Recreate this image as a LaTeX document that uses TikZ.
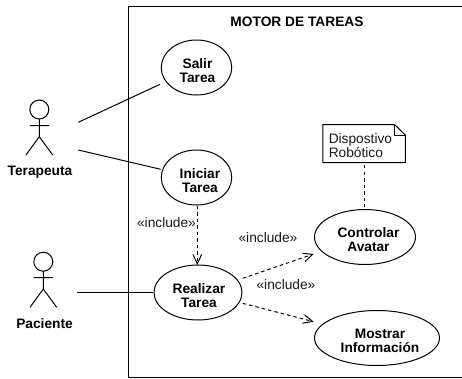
\documentclass[tikz,border=0pt]{standalone}
\usepackage{fontspec}
\setmainfont{Liberation Sans}
\usetikzlibrary{arrows.meta,shapes.geometric}
\newcommand{\ucline}[2]{\hspace*{#1}#2}
\tikzset{
  x=0.75pt,y=-0.75pt,
  line/.style={draw=black,line width=0.75pt},
  usecase/.style={draw=black,line width=0.75pt,ellipse,inner sep=0pt,align=center,font=\fontsize{10.3pt}{10.5pt}\selectfont\bfseries,
    execute at begin node={\rule{0pt}{22.5pt}}},
  lbl/.style={font=\fontsize{10.3pt}{10.5pt}\selectfont,inner sep=0pt,text=black!90},
  actorname/.style={font=\fontsize{10.3pt}{10.5pt}\selectfont\bfseries,inner sep=0pt},
  dep/.style={line width=0.75pt,dash pattern=on 2.6pt off 2.3pt,-{Straight Barb[length=7pt,width=6.5pt,line width=0.75pt]}},
  dashline/.style={line width=0.75pt,dash pattern=on 2.6pt off 2.3pt},
}
\begin{document}
\begin{tikzpicture}
\useasboundingbox (0,0) rectangle (462,379);
\coordinate (s1) at (462,6.3); \coordinate (s2) at (128.7,6.3); \coordinate (s3) at (128.7,377.7); \coordinate (s4) at (462,377.7);
\draw[line,line width=1pt] (s1) -- (s2) -- (s3) -- (s4);
\node[font=\fontsize{10.3pt}{10.5pt}\selectfont\bfseries,inner sep=0pt] (title) at (297,22) {MOTOR DE TAREAS};
\node[usecase,minimum width=70.5pt*0.75,minimum height=55pt*0.75] (salir) at (196.5,67.5) {\ucline{1.5pt}{Salir}\\\ucline{1.5pt}{Tarea}};
\node[usecase,minimum width=70.5pt*0.75,minimum height=55pt*0.75] (iniciar) at (196.5,177.5) {\ucline{5.2pt}{Iniciar}\\\ucline{5.2pt}{Tarea}};
\node[usecase,minimum width=88pt*0.75,minimum height=55pt*0.75] (realizar) at (198,292.5) {\ucline{1.5pt}{Realizar}\\\ucline{1.5pt}{Tarea}};
\node[usecase,minimum width=101pt*0.75,minimum height=55pt*0.75] (controlar) at (365,237) {\ucline{5.2pt}{Controlar}\\\ucline{5.2pt}{Avatar}};
\node[usecase,minimum width=125pt*0.75,minimum height=55pt*0.75] (mostrar) at (377,338) {\ucline{4.5pt}{Mostrar}\\\ucline{4.5pt}{Información}};
% note
\coordinate (nA) at (323,124.5); \coordinate (nB) at (394.5,124.5); \coordinate (nC) at (405.3,135);
\coordinate (nD) at (405.3,162.7); \coordinate (nE) at (323,162.7); \coordinate (nF) at (394.5,135);
\draw[line,fill=white,line join=miter] (nA) -- (nB) -- (nC) -- (nD) -- (nE) -- cycle;
\draw[line] (nB) -- (nF) -- (nC);
\node[font=\fontsize{10.3pt}{10.5pt}\selectfont,align=left,inner sep=0pt,anchor=west,text=black!90] (note) at (328.5,146) {Dispostivo\\Robótico};
\coordinate (nBot) at (364.5,165);
\coordinate (cTop) at (364.5,207);
\draw[dashline] (nBot) -- (cTop);
% actors
\coordinate (th) at (39.3,109.5);
\draw[line] (th) circle (9.5);
\coordinate (tn) at (39.3,119); \coordinate (tw) at (39.3,136.7); \coordinate (tl) at (26,155); \coordinate (tr) at (52.7,155);
\coordinate (tal) at (30,125.7); \coordinate (tar) at (49.3,125.7);
\draw[line] (tn) -- (tw) (tal) -- (tar) (tl) -- (tw) -- (tr);
\node[actorname] (terapeuta) at (40,172.5) {Terapeuta};
\coordinate (ph) at (43.3,261.7);
\draw[line] (ph) circle (9.5);
\coordinate (pn) at (43.3,271.2); \coordinate (pw) at (43.3,289); \coordinate (pl) at (30,307.3); \coordinate (pr) at (56.7,307.3);
\coordinate (pal) at (33.7,277.7); \coordinate (par) at (53,277.7);
\draw[line] (pn) -- (pw) (pal) -- (par) (pl) -- (pw) -- (pr);
\node[actorname] (paciente) at (44.5,324) {Paciente};
% associations
\coordinate (a1) at (78.3,122.3); \coordinate (a2) at (78.3,150); \coordinate (a3) at (77.3,292.5);
\coordinate (e1) at (160,84.3); \coordinate (e2) at (160.7,169.3);
\draw[line] (a1) -- (e1);
\draw[line] (a2) -- (e2);
\draw[line] (a3) -- (realizar.west);
% includes
\coordinate (i0) at (197.3,205.5); \coordinate (i9) at (197.3,265);
\draw[dep] (i0) -- (i9);
\coordinate (r1) at (242.7,278.3); \coordinate (c1) at (313.7,254);
\coordinate (r2) at (242.7,303.3); \coordinate (m1) at (313.7,321.7);
\draw[dep] (r1) -- (c1);
\draw[dep] (r2) -- (m1);
\node[lbl] (i1) at (166.5,222.5) {«include»};
\node[lbl] (i2) at (268,237.5) {«include»};
\node[lbl] (i3) at (286,284.5) {«include»};
\end{tikzpicture}
\end{document}
